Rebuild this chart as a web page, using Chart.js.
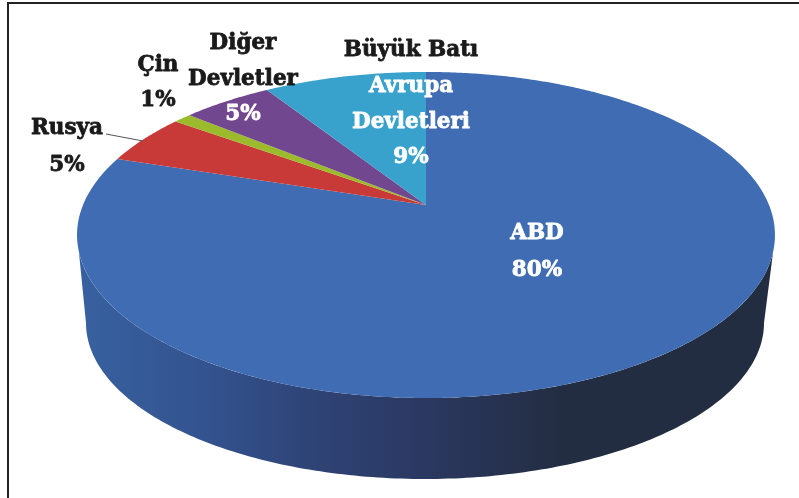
<!DOCTYPE html>
<html>
<head>
<meta charset="utf-8">
<style>
  html, body { margin: 0; padding: 0; background: #fff; overflow: hidden; }
  #frame { position: absolute; left: 7px; top: 2px; width: 792px; height: 496px; border-left: 2px solid #222; border-top: 2px solid #222; box-sizing: border-box; }
  #chart { position: absolute; left: 0; top: 0; }
</style>
</head>
<body>
<div id="frame"></div>
<canvas id="chart" width="799" height="498"></canvas>
<script src="https://cdn.jsdelivr.net/npm/chart.js@4"></script>
<script>
const categories = [["ABD"], ["Rusya"], ["Çin"], ["Diğer", "Devletler"], ["Büyük Batı", "Avrupa", "Devletleri"]];
const values = [80, 5, 1, 5, 9];
const colors = ["#3f6cb3", "#c83a37", "#9bbb2c", "#71478f", "#38a2cc"];

// perspective of the tilted disc, the apex is not in the middle of the ellipse
const disc = { cx: 426, cy: 205, a: 343, b: 157.5, k: -0.184 };
function project(angle) {
  const u = Math.cos(angle), v = Math.sin(angle), w = 1 + disc.k * v;
  return [disc.cx + disc.a * u / w, disc.cy + disc.b * v / w];
}

// label anchors per slice: x, then y of every line (percent line last)
const labelAnchors = [
  { x: 537, ys: [233, 270], fill: ["#fff", "#fff"] },
  { x: 67, ys: [128, 165], fill: ["#1a1a1a", "#1a1a1a"] },
  { x: 158, ys: [65, 100], fill: ["#1a1a1a", "#1a1a1a"] },
  { x: 243, ys: [43, 79, 114], fill: ["#1a1a1a", "#1a1a1a", "#fff"] },
  { x: 411, ys: [50, 86, 122, 157], fill: ["#1a1a1a", "#fff", "#fff", "#fff"] }
];

function drawWall(ctx) {
  const grad = ctx.createLinearGradient(85, 0, 560, 0);
  grad.addColorStop(0, "#38609f");
  grad.addColorStop(0.25, "#33538f");
  grad.addColorStop(0.5, "#2e4274");
  grad.addColorStop(0.72, "#2b3860");
  grad.addColorStop(1, "#232d42");
  const rad = Math.PI / 180;
  ctx.beginPath();
  for (let t = 6; t <= 174; t += 1) {
    ctx.lineTo(426 + 349 * Math.cos(t * rad), 235 + 163 * Math.sin(t * rad));
  }
  for (let t = 180; t >= 0; t -= 1) {
    ctx.lineTo(425 + 339 * Math.cos(t * rad), 323 + 156 * Math.sin(t * rad));
  }
  ctx.closePath();
  ctx.fillStyle = grad;
  ctx.fill();
}

const tiltedPie = {
  id: "tiltedPie",
  beforeDatasetDraw(chart, args) {
    const ctx = chart.ctx;
    ctx.save();
    drawWall(ctx);
    args.meta.data.forEach(arc => {
      ctx.beginPath();
      ctx.moveTo(disc.cx, disc.cy);
      const steps = Math.ceil((arc.endAngle - arc.startAngle) / 0.01);
      for (let i = 0; i <= steps; i++) {
        const p = project(arc.startAngle + (arc.endAngle - arc.startAngle) * i / steps);
        ctx.lineTo(p[0], p[1]);
      }
      ctx.closePath();
      ctx.fillStyle = arc.options.backgroundColor;
      ctx.fill();
    });
    ctx.restore();
    return false;
  },
  afterDatasetsDraw(chart) {
    const ctx = chart.ctx;
    ctx.save();
    // Rusya leader
    ctx.strokeStyle = "#555";
    ctx.lineWidth = 1;
    ctx.beginPath();
    ctx.moveTo(106, 134);
    ctx.lineTo(143, 141);
    ctx.stroke();
    ctx.filter = "blur(0.4px)";
    ctx.font = "bold 21.5px 'DejaVu Serif'";
    ctx.textAlign = "center";
    ctx.textBaseline = "middle";
    ctx.lineWidth = 0.8;
    ctx.lineJoin = "round";
    chart.data.labels.forEach((lines, i) => {
      const anchor = labelAnchors[i];
      lines.concat(chart.data.datasets[0].data[i] + "%").forEach((line, j) => {
        ctx.fillStyle = anchor.fill[j];
        ctx.strokeStyle = anchor.fill[j];
        ctx.strokeText(line, anchor.x, anchor.ys[j]);
        ctx.fillText(line, anchor.x, anchor.ys[j]);
      });
    });
    ctx.restore();
  }
};

new Chart(document.getElementById("chart"), {
  type: "pie",
  data: {
    labels: categories,
    datasets: [{ data: values, backgroundColor: colors, borderWidth: 0 }]
  },
  options: {
    responsive: false,
    animation: false,
    plugins: { legend: { display: false }, tooltip: { enabled: false } }
  },
  plugins: [tiltedPie]
});
</script>
</body>
</html>
